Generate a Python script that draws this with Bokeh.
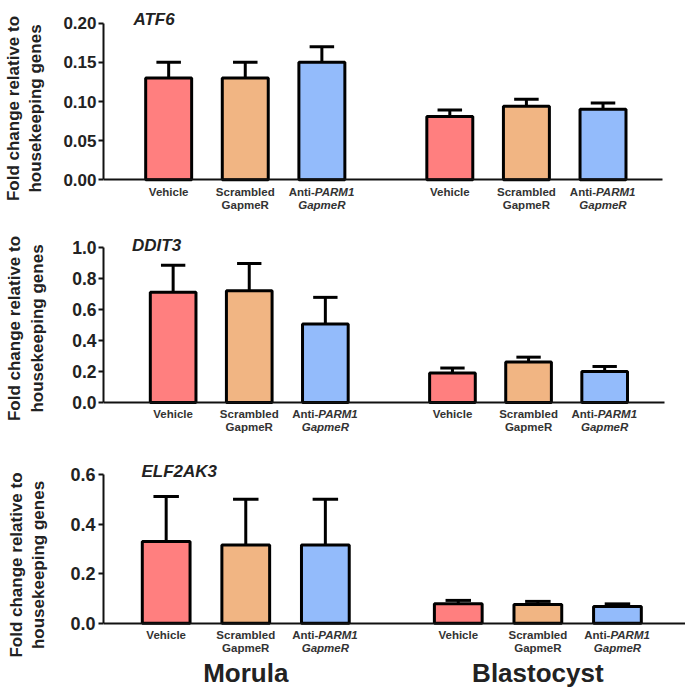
from bokeh.plotting import figure
from bokeh.layouts import column
from bokeh.models import Range1d, FixedTicker, NumeralTickFormatter, Label, ColumnDataSource
from bokeh.embed import file_html
from bokeh.resources import INLINE

# ---------------- data ----------------
categories = ["Vehicle", "Scrambled GapmeR", "Anti-PARM1 GapmeR"]
stages = ["Morula", "Blastocyst"]
genes = ["ATF6", "DDIT3", "ELF2AK3"]

# order: Morula (Vehicle, Scrambled, Anti-PARM1), Blastocyst (Vehicle, Scrambled, Anti-PARM1)
atf6_mean = [0.130, 0.130, 0.150, 0.081, 0.094, 0.090]
atf6_err = [0.020, 0.020, 0.020, 0.008, 0.009, 0.008]

ddit3_mean = [0.71, 0.72, 0.505, 0.19, 0.26, 0.20]
ddit3_err = [0.174, 0.175, 0.172, 0.032, 0.032, 0.032]

elf2ak3_mean = [0.330, 0.316, 0.316, 0.078, 0.075, 0.067]
elf2ak3_err = [0.181, 0.184, 0.184, 0.014, 0.013, 0.011]

y_max = [0.20, 1.0, 0.6]
y_ticks = [[0.0, 0.05, 0.10, 0.15, 0.20],
           [0.0, 0.2, 0.4, 0.6, 0.8, 1.0],
           [0.0, 0.2, 0.4, 0.6]]
tick_formats = ["0.00", "0.0", "0.0"]

colors = ["#FF7F7F", "#F1B583", "#93BBFB"]

means = [atf6_mean, ddit3_mean, elf2ak3_mean]
errs = [atf6_err, ddit3_err, elf2ak3_err]

# ---------------- layout ----------------
FONT = "Liberation Sans"
GROUP_GAP = 0.67
xs = [s * (3 + GROUP_GAP) + c for s in range(len(stages)) for c in range(len(categories))]
bar_colors = [colors[c] for s in range(len(stages)) for c in range(len(categories))]

W = 685
FRAME_LEFT = 100
panel_cfg = [
    dict(h=216, top_px=22.7, zero_px=179.3, bar0_px=165.5, ppx=77.0, x_bound=6.45,
         tick_fs="17px", lab_sto=2, ax_sto=15, title_x=-0.46, title_dy=4),
    dict(h=224, top_px=30.7, zero_px=186.0, bar0_px=170.0, ppx=76.5, x_bound=6.45,
         tick_fs="17.5px", lab_sto=2, ax_sto=22, title_x=-0.54, title_dy=2),
    dict(h=249, top_px=34.0, zero_px=182.7, bar0_px=163.0, ppx=80.0, x_bound=None,
         tick_fs="18px", lab_sto=3, ax_sto=19, title_x=-0.31, title_dy=3),
]

figs = []
for i, gene in enumerate(genes):
    cfg = panel_cfg[i]
    ppu = (cfg["zero_px"] - cfg["top_px"]) / y_max[i]
    y_start = -(cfg["h"] - cfg["zero_px"]) / ppu
    y_end = y_max[i] + cfg["top_px"] / ppu
    x_start = (FRAME_LEFT - cfg["bar0_px"]) / cfg["ppx"]
    x_end = (W - cfg["bar0_px"]) / cfg["ppx"]
    p = figure(width=W, height=cfg["h"], output_backend="svg", toolbar_location=None,
               x_range=Range1d(x_start, x_end), y_range=Range1d(y_start, y_end),
               min_border_left=FRAME_LEFT, min_border_right=0,
               min_border_top=0, min_border_bottom=0)
    p.outline_line_color = None
    p.grid.visible = False
    p.background_fill_color = "white"
    p.border_fill_color = "white"

    top = [m + e for m, e in zip(means[i], errs[i])]
    src = ColumnDataSource(dict(x=xs, y=means[i], top=top, color=bar_colors,
                                cl=[x - 0.16 for x in xs], cr=[x + 0.16 for x in xs]))
    # error bars (upper only)
    p.segment(x0="x", y0="y", x1="x", y1="top", source=src, line_color="black", line_width=3)
    p.segment(x0="cl", y0="top", x1="cr", y1="top", source=src, line_color="black", line_width=3)
    # bars
    p.vbar(x="x", top="y", bottom=0, width=0.6, source=src, fill_color="color",
           line_color="black", line_width=3)

    # y axis
    ya = p.yaxis[0]
    ya.bounds = (0, y_max[i])
    ya.ticker = FixedTicker(ticks=y_ticks[i])
    ya.formatter = NumeralTickFormatter(format=tick_formats[i])
    ya.minor_tick_line_color = None
    ya.major_tick_in = 0
    ya.major_tick_out = 5
    ya.major_tick_line_width = 2
    ya.axis_line_width = 2
    ya.axis_line_color = "#111111"
    ya.major_tick_line_color = "#111111"
    ya.major_label_text_font = FONT
    ya.major_label_text_font_style = "bold"
    ya.major_label_text_font_size = cfg["tick_fs"]
    ya.major_label_text_color = "#222222"
    ya.major_label_standoff = cfg["lab_sto"]
    ya.axis_label = "Fold change relative to\nhousekeeping genes"
    ya.axis_label_text_font = FONT
    ya.axis_label_text_font_style = "bold"
    ya.axis_label_text_font_size = "17px"
    ya.axis_label_text_color = "#222222"
    ya.axis_label_standoff = cfg["ax_sto"]

    # x axis: baseline only, drawn at y = 0
    xa = p.xaxis[0]
    xa.fixed_location = 0
    if cfg["x_bound"] is not None:
        xa.bounds = (x_start, cfg["x_bound"])
    xa.ticker = FixedTicker(ticks=[])
    xa.major_tick_line_color = None
    xa.minor_tick_line_color = None
    xa.major_label_text_font_size = "0px"
    xa.axis_line_width = 2
    xa.axis_line_color = "#111111"

    # gene title
    p.add_layout(Label(x=cfg["title_x"], y=y_max[i], y_offset=cfg["title_dy"], text=gene,
                       text_font=FONT, text_font_style="bold italic", text_font_size="17px",
                       text_baseline="middle", text_align="left", text_color="#222222"))

    # category labels
    for k, x in enumerate(xs):
        c = k % 3
        common = dict(x=x, y=0, text_font=FONT, text_font_size="11.5px", text_color="#333333",
                      text_baseline="middle")
        if c == 0:
            p.add_layout(Label(text=categories[0], y_offset=-11.7, text_align="center",
                               text_font_style="bold", **common))
        elif c == 1:
            w1, w2 = categories[1].split(" ")
            p.add_layout(Label(text=w1, y_offset=-11.7, text_align="center",
                               text_font_style="bold", **common))
            p.add_layout(Label(text=w2, y_offset=-24.7, text_align="center",
                               text_font_style="bold", **common))
        else:
            w1, w2 = categories[2].split(" ")
            pre, gene_name = w1.split("-")
            p.add_layout(Label(text=pre + "-", y_offset=-11.7, x_offset=-7, text_align="right",
                               text_font_style="bold", **common))
            p.add_layout(Label(text=gene_name, y_offset=-11.7, x_offset=-7, text_align="left",
                               text_font_style="bold italic", **common))
            p.add_layout(Label(text=w2, y_offset=-24.7, text_align="center",
                               text_font_style="bold italic", **common))

    if i == len(genes) - 1:
        for s, stage in enumerate(stages):
            cx = sum(xs[s * 3:(s + 1) * 3]) / 3.0
            p.add_layout(Label(x=cx, y=0, y_offset=-49.5, text=stage, text_font=FONT,
                               text_font_style="bold", text_font_size="26px",
                               text_align="center", text_baseline="middle",
                               text_color="#222222"))
    figs.append(p)

layout = column(*figs, spacing=0)
open("out.html", "w").write(file_html(layout, INLINE))
